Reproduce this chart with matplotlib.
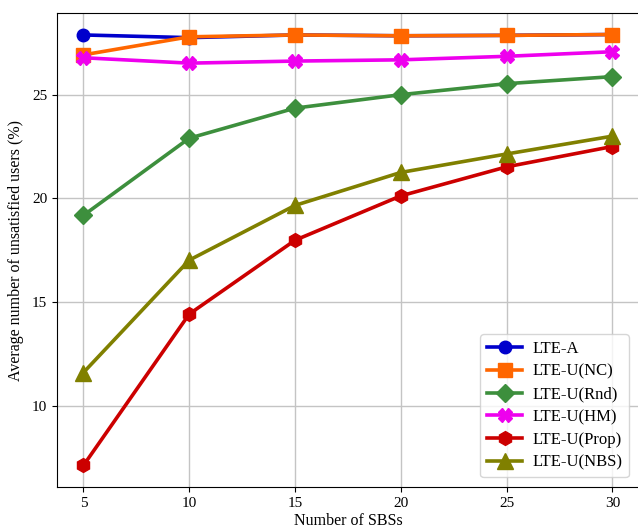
import matplotlib
matplotlib.use("Agg")
import matplotlib.pyplot as plt

plt.rcParams["font.family"] = ["Liberation Serif", "DejaVu Serif"]
plt.rcParams["mathtext.fontset"] = "stix"

sbs = [5, 10, 15, 20, 25, 30]
lte_a = [27.88, 27.75, 27.88, 27.84, 27.86, 27.9]
lte_u_nc = [26.92, 27.79, 27.88, 27.84, 27.86, 27.9]
lte_u_rnd = [19.18, 22.9, 24.35, 25.0, 25.53, 25.87]
lte_u_hm = [26.78, 26.52, 26.62, 26.68, 26.85, 27.07]
lte_u_prop = [7.12, 14.42, 17.98, 20.12, 21.52, 22.5]
lte_u_nbs = [11.6, 17.02, 19.66, 21.25, 22.14, 23.0]

series = [
    ("LTE-A", lte_a, "#0000cc", "o", 9),
    ("LTE-U(NC)", lte_u_nc, "#ff6600", "s", 10),
    ("LTE-U(Rnd)", lte_u_rnd, "#3d8f3d", "D", 9),
    ("LTE-U(HM)", lte_u_hm, "#ee00ee", "X", 10),
    ("LTE-U(Prop)", lte_u_prop, "#cc0000", "h", 10),
    ("LTE-U(NBS)", lte_u_nbs, "#808000", "^", 11),
]

fig = plt.figure(figsize=(6.38, 5.3), dpi=100)
ax = fig.add_axes([0.0893, 0.0811, 0.912, 0.8944])

for label, vals, color, marker, ms in series:
    ax.plot(sbs, vals, color=color, marker=marker, markersize=ms,
            linewidth=2.6, label=label)

ax.grid(True, color="#c4c4c4", linewidth=1)
ax.set_axisbelow(True)
ax.set_xticks(sbs)
ax.set_yticks([10, 15, 20, 25])
ax.tick_params(labelsize=11)
ax.set_xlabel("Number of SBSs", fontsize=11.5, labelpad=2)
ax.set_ylabel("Average number of unsatisfied users (%)", fontsize=11.5, labelpad=6)
ax.legend(loc="lower right", fontsize=12, handlelength=2.1, handletextpad=0.6,
          borderaxespad=0.6, labelspacing=0.4, borderpad=0.4)

fig.savefig("out.png", dpi=100)
